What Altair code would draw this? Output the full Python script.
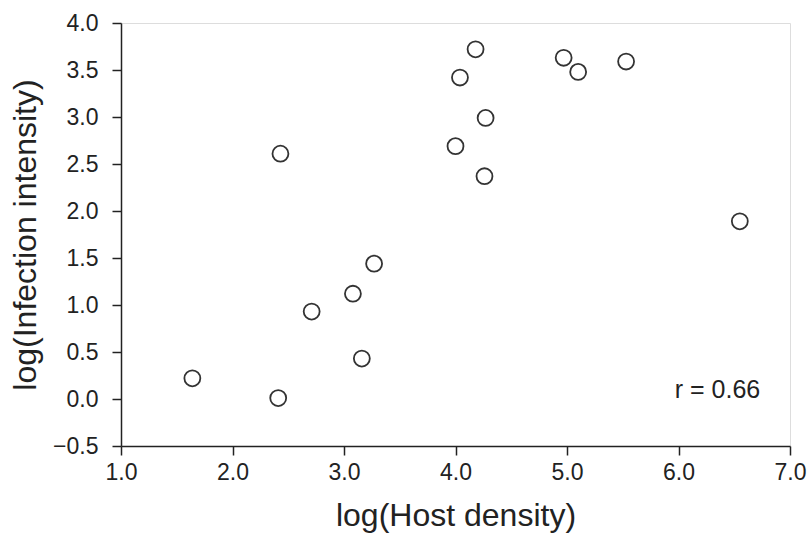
import altair as alt
import pandas as pd

host_density = [1.64, 2.41, 2.43, 2.71, 3.08, 3.16, 3.27, 4.00, 4.04, 4.18, 4.27, 4.26, 4.97, 5.10, 5.53, 6.55]
infection_intensity = [0.22, 0.01, 2.61, 0.93, 1.12, 0.43, 1.44, 2.69, 3.42, 3.72, 2.99, 2.37, 3.63, 3.48, 3.59, 1.89]
x_ticks = [1.0, 2.0, 3.0, 4.0, 5.0, 6.0, 7.0]
y_ticks = [-0.5, 0.0, 0.5, 1.0, 1.5, 2.0, 2.5, 3.0, 3.5, 4.0]
annotation = ["r = 0.66"]
annot_x = [6.35]
annot_y = [0.1]

df = pd.DataFrame({"x": host_density, "y": infection_intensity})
ann = pd.DataFrame({"x": annot_x, "y": annot_y, "t": annotation})

FONT = "Liberation Sans"

xscale = alt.Scale(domain=[1, 7], nice=False, zero=False)
yscale = alt.Scale(domain=[-0.5, 4.0], nice=False, zero=False)

points = alt.Chart(df).mark_point(
    shape="circle", filled=False, size=254, strokeWidth=1.8, color="#333333", opacity=1
).encode(
    x=alt.X("x:Q", scale=xscale, axis=alt.Axis(
        title="log(Host density)", values=x_ticks, format=".1f", grid=False,
        tickSize=9, tickWidth=1.5, tickColor="#222222", domainColor="#222222", domainWidth=1.5,
        labelFont=FONT, labelFontSize=23, labelColor="#222222", labelPadding=6,
        titleFont=FONT, titleFontSize=32, titleFontWeight="normal", titleColor="#222222",
        titlePadding=16, labelFlush=False)),
    y=alt.Y("y:Q", scale=yscale, axis=alt.Axis(
        title="log(Infection intensity)", values=y_ticks, format=".1f", grid=False,
        tickSize=9, tickWidth=1.5, tickColor="#222222", domainColor="#222222", domainWidth=1.5,
        labelFont=FONT, labelFontSize=23, labelColor="#222222", labelPadding=14,
        titleFont=FONT, titleFontSize=32, titleFontWeight="normal", titleColor="#222222",
        titlePadding=10, labelFlush=False)),
)

text = alt.Chart(ann).mark_text(
    font=FONT, fontSize=25, color="#222222", align="center", baseline="middle"
).encode(x=alt.X("x:Q", scale=xscale), y=alt.Y("y:Q", scale=yscale), text="t:N")

chart = alt.layer(points, text).properties(
    width=669, height=423,
    autosize=alt.AutoSizeParams(type="none"),
    padding={"left": 121, "top": 23, "right": 22, "bottom": 98},
).configure_view(stroke="#222222", strokeWidth=1.5).configure(background="white")

chart.save("out.html", embed_options={"renderer": "svg", "actions": False})
